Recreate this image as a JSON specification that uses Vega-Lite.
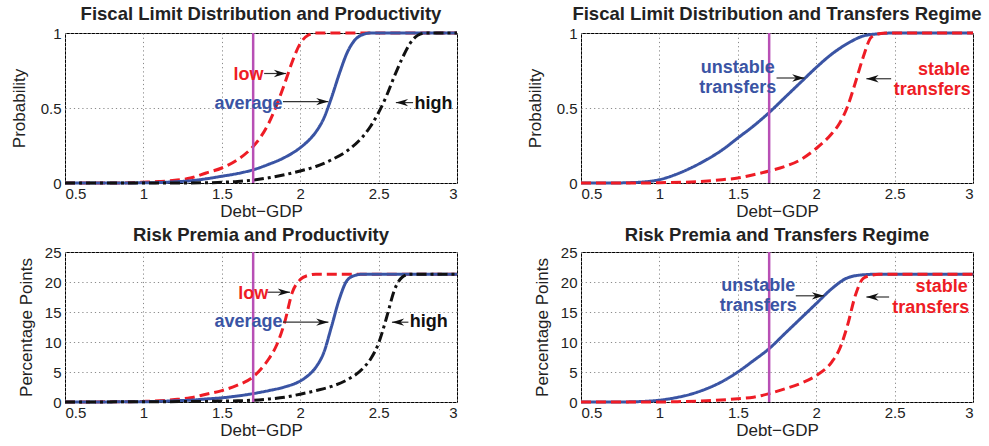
{
  "$schema": "https://vega.github.io/schema/vega-lite/v6.json",
  "padding": {"left": 9, "top": 4, "right": 3, "bottom": 5},
  "background": "white",
  "columns": 2,
  "spacing": {"row": 69, "column": 124},
  "bounds": "flush",
  "config": {
    "font": "Liberation Sans",
    "view": {"stroke": "#000000", "strokeWidth": 1},
    "axis": {
      "labelFont": "Liberation Sans", "labelFontSize": 15, "labelColor": "#222222", "labelOverlap": false,
      "titleFont": "Liberation Sans", "titleFontSize": 17, "titleFontWeight": "normal", "titleColor": "#222222",
      "domain": false, "ticks": false, "labelPadding": 4,
      "grid": true, "gridColor": "#8a8a8a", "gridDash": [1.2, 3], "gridWidth": 1, "gridOpacity": 1
    },
    "axisY": {"titlePadding": 12},
    "axisX": {"titlePadding": 2, "labelPadding": 3},
    "title": {"font": "Liberation Sans", "fontSize": 18.5, "fontWeight": "bold", "color": "#222222", "offset": 3},
    "text": {"font": "Liberation Sans"}
  },
  "datasets": {
    "p1": [
      {"s":"low","x":0.5,"y":0},{"s":"low","x":0.8,"y":0},{"s":"low","x":0.9,"y":0.001},{"s":"low","x":1.0,"y":0.005},{"s":"low","x":1.1,"y":0.01},{"s":"low","x":1.2,"y":0.018},{"s":"low","x":1.3,"y":0.033},{"s":"low","x":1.4,"y":0.067},{"s":"low","x":1.5,"y":0.1},{"s":"low","x":1.6,"y":0.155},{"s":"low","x":1.7,"y":0.244},{"s":"low","x":1.75,"y":0.31},{"s":"low","x":1.8,"y":0.4},{"s":"low","x":1.85,"y":0.52},{"s":"low","x":1.9,"y":0.66},{"s":"low","x":1.95,"y":0.81},{"s":"low","x":2.0,"y":0.93},{"s":"low","x":2.05,"y":0.985},{"s":"low","x":2.1,"y":1.0},{"s":"low","x":2.5,"y":1.0},{"s":"low","x":3.0,"y":1.0},
      {"s":"average","x":0.5,"y":0},{"s":"average","x":1.0,"y":0.001},{"s":"average","x":1.2,"y":0.008},{"s":"average","x":1.3,"y":0.015},{"s":"average","x":1.4,"y":0.028},{"s":"average","x":1.5,"y":0.045},{"s":"average","x":1.6,"y":0.063},{"s":"average","x":1.7,"y":0.088},{"s":"average","x":1.8,"y":0.125},{"s":"average","x":1.9,"y":0.17},{"s":"average","x":2.0,"y":0.235},{"s":"average","x":2.05,"y":0.28},{"s":"average","x":2.1,"y":0.34},{"s":"average","x":2.15,"y":0.43},{"s":"average","x":2.2,"y":0.57},{"s":"average","x":2.25,"y":0.73},{"s":"average","x":2.3,"y":0.87},{"s":"average","x":2.35,"y":0.955},{"s":"average","x":2.4,"y":0.99},{"s":"average","x":2.45,"y":1.0},{"s":"average","x":3.0,"y":1.0},
      {"s":"high","x":0.5,"y":0},{"s":"high","x":1.4,"y":0.001},{"s":"high","x":1.5,"y":0.005},{"s":"high","x":1.6,"y":0.01},{"s":"high","x":1.7,"y":0.02},{"s":"high","x":1.8,"y":0.035},{"s":"high","x":1.9,"y":0.055},{"s":"high","x":2.0,"y":0.08},{"s":"high","x":2.1,"y":0.11},{"s":"high","x":2.2,"y":0.155},{"s":"high","x":2.3,"y":0.215},{"s":"high","x":2.4,"y":0.31},{"s":"high","x":2.45,"y":0.38},{"s":"high","x":2.5,"y":0.47},{"s":"high","x":2.55,"y":0.58},{"s":"high","x":2.6,"y":0.71},{"s":"high","x":2.65,"y":0.83},{"s":"high","x":2.7,"y":0.93},{"s":"high","x":2.75,"y":0.985},{"s":"high","x":2.8,"y":1.0},{"s":"high","x":3.0,"y":1.0}
    ],
    "p2": [
      {"s":"unstable","x":0.5,"y":0},{"s":"unstable","x":0.7,"y":0},{"s":"unstable","x":0.8,"y":0.002},{"s":"unstable","x":0.9,"y":0.007},{"s":"unstable","x":1.0,"y":0.022},{"s":"unstable","x":1.1,"y":0.055},{"s":"unstable","x":1.2,"y":0.1},{"s":"unstable","x":1.3,"y":0.155},{"s":"unstable","x":1.4,"y":0.22},{"s":"unstable","x":1.5,"y":0.3},{"s":"unstable","x":1.6,"y":0.38},{"s":"unstable","x":1.7,"y":0.47},{"s":"unstable","x":1.8,"y":0.57},{"s":"unstable","x":1.9,"y":0.67},{"s":"unstable","x":2.0,"y":0.77},{"s":"unstable","x":2.1,"y":0.86},{"s":"unstable","x":2.2,"y":0.93},{"s":"unstable","x":2.3,"y":0.98},{"s":"unstable","x":2.4,"y":0.995},{"s":"unstable","x":2.5,"y":1.0},{"s":"unstable","x":3.0,"y":1.0},
      {"s":"stable","x":0.5,"y":0},{"s":"stable","x":0.9,"y":0},{"s":"stable","x":1.0,"y":0.002},{"s":"stable","x":1.2,"y":0.007},{"s":"stable","x":1.4,"y":0.022},{"s":"stable","x":1.5,"y":0.033},{"s":"stable","x":1.6,"y":0.055},{"s":"stable","x":1.7,"y":0.08},{"s":"stable","x":1.8,"y":0.11},{"s":"stable","x":1.9,"y":0.155},{"s":"stable","x":2.0,"y":0.23},{"s":"stable","x":2.1,"y":0.33},{"s":"stable","x":2.15,"y":0.4},{"s":"stable","x":2.2,"y":0.51},{"s":"stable","x":2.25,"y":0.67},{"s":"stable","x":2.3,"y":0.84},{"s":"stable","x":2.35,"y":0.97},{"s":"stable","x":2.4,"y":0.995},{"s":"stable","x":2.45,"y":1.0},{"s":"stable","x":3.0,"y":1.0}
    ],
    "p3": [
      {"s":"low","x":0.5,"y":0},{"s":"low","x":0.9,"y":0.05},{"s":"low","x":1.0,"y":0.1},{"s":"low","x":1.1,"y":0.2},{"s":"low","x":1.2,"y":0.4},{"s":"low","x":1.3,"y":0.7},{"s":"low","x":1.4,"y":1.3},{"s":"low","x":1.5,"y":1.9},{"s":"low","x":1.6,"y":2.8},{"s":"low","x":1.7,"y":4.2},{"s":"low","x":1.75,"y":5.5},{"s":"low","x":1.8,"y":7.2},{"s":"low","x":1.85,"y":9.5},{"s":"low","x":1.9,"y":13.2},{"s":"low","x":1.95,"y":18.3},{"s":"low","x":2.0,"y":20.4},{"s":"low","x":2.05,"y":21.1},{"s":"low","x":2.1,"y":21.3},{"s":"low","x":2.5,"y":21.3},{"s":"low","x":3.0,"y":21.3},
      {"s":"average","x":0.5,"y":0},{"s":"average","x":1.0,"y":0.05},{"s":"average","x":1.1,"y":0.1},{"s":"average","x":1.2,"y":0.2},{"s":"average","x":1.3,"y":0.3},{"s":"average","x":1.4,"y":0.5},{"s":"average","x":1.5,"y":0.7},{"s":"average","x":1.6,"y":1.0},{"s":"average","x":1.7,"y":1.4},{"s":"average","x":1.8,"y":1.9},{"s":"average","x":1.9,"y":2.5},{"s":"average","x":2.0,"y":3.5},{"s":"average","x":2.05,"y":4.4},{"s":"average","x":2.1,"y":5.8},{"s":"average","x":2.15,"y":8.2},{"s":"average","x":2.2,"y":12.6},{"s":"average","x":2.25,"y":17.2},{"s":"average","x":2.3,"y":20.3},{"s":"average","x":2.35,"y":21.1},{"s":"average","x":2.4,"y":21.3},{"s":"average","x":3.0,"y":21.3},
      {"s":"high","x":0.5,"y":0},{"s":"high","x":1.4,"y":0.1},{"s":"high","x":1.5,"y":0.15},{"s":"high","x":1.6,"y":0.2},{"s":"high","x":1.7,"y":0.3},{"s":"high","x":1.8,"y":0.5},{"s":"high","x":1.9,"y":0.8},{"s":"high","x":2.0,"y":1.3},{"s":"high","x":2.1,"y":1.9},{"s":"high","x":2.2,"y":2.6},{"s":"high","x":2.3,"y":3.7},{"s":"high","x":2.4,"y":5.6},{"s":"high","x":2.45,"y":7.2},{"s":"high","x":2.5,"y":9.8},{"s":"high","x":2.55,"y":14.0},{"s":"high","x":2.6,"y":18.6},{"s":"high","x":2.65,"y":20.8},{"s":"high","x":2.7,"y":21.3},{"s":"high","x":3.0,"y":21.3}
    ],
    "p4": [
      {"s":"unstable","x":0.5,"y":0},{"s":"unstable","x":0.8,"y":0.02},{"s":"unstable","x":0.9,"y":0.1},{"s":"unstable","x":1.0,"y":0.3},{"s":"unstable","x":1.1,"y":0.7},{"s":"unstable","x":1.2,"y":1.3},{"s":"unstable","x":1.3,"y":2.2},{"s":"unstable","x":1.4,"y":3.4},{"s":"unstable","x":1.5,"y":5.0},{"s":"unstable","x":1.6,"y":6.9},{"s":"unstable","x":1.7,"y":8.9},{"s":"unstable","x":1.8,"y":11.4},{"s":"unstable","x":1.9,"y":13.9},{"s":"unstable","x":2.0,"y":16.4},{"s":"unstable","x":2.1,"y":18.9},{"s":"unstable","x":2.2,"y":20.7},{"s":"unstable","x":2.3,"y":21.2},{"s":"unstable","x":2.4,"y":21.3},{"s":"unstable","x":3.0,"y":21.3},
      {"s":"stable","x":0.5,"y":0},{"s":"stable","x":1.0,"y":0},{"s":"stable","x":1.1,"y":0.05},{"s":"stable","x":1.3,"y":0.2},{"s":"stable","x":1.5,"y":0.55},{"s":"stable","x":1.6,"y":0.8},{"s":"stable","x":1.7,"y":1.4},{"s":"stable","x":1.8,"y":2.2},{"s":"stable","x":1.9,"y":3.1},{"s":"stable","x":2.0,"y":4.4},{"s":"stable","x":2.1,"y":6.7},{"s":"stable","x":2.15,"y":8.9},{"s":"stable","x":2.2,"y":12.8},{"s":"stable","x":2.25,"y":17.8},{"s":"stable","x":2.3,"y":20.6},{"s":"stable","x":2.35,"y":21.1},{"s":"stable","x":2.4,"y":21.3},{"s":"stable","x":3.0,"y":21.3}
    ],
    "lab1": [{"s":"low","x":1.67,"y":0.72,"t":"low"},{"s":"average","x":1.67,"y":0.53,"t":"average"},{"s":"high","x":2.85,"y":0.53,"t":"high"}],
    "arr1": [{"x2":1.77,"x":1.91,"y":0.73},{"x2":1.89,"x":2.18,"y":0.543},{"x2":2.72,"x":2.61,"y":0.536}],
    "lab2": [{"s":"unstable","x":1.5,"y":0.77,"t":"unstable"},{"s":"unstable","x":1.5,"y":0.636,"t":"transfers"},{"s":"stable","x":2.815,"y":0.755,"t":"stable"},{"s":"stable","x":2.74,"y":0.62,"t":"transfers"}],
    "arr2": [{"x2":1.747,"x":1.925,"y":0.7},{"x2":2.478,"x":2.32,"y":0.695}],
    "lab3": [{"s":"low","x":1.7,"y":18,"t":"low"},{"s":"average","x":1.67,"y":13.3,"t":"average"},{"s":"high","x":2.82,"y":13.3,"t":"high"}],
    "arr3": [{"x2":1.79,"x":1.935,"y":18.3},{"x2":1.89,"x":2.18,"y":13.3},{"x2":2.69,"x":2.585,"y":13.3}],
    "lab4": [{"s":"unstable","x":1.63,"y":19.3,"t":"unstable"},{"s":"unstable","x":1.63,"y":16,"t":"transfers"},{"s":"stable","x":2.8,"y":19.2,"t":"stable"},{"s":"stable","x":2.73,"y":15.7,"t":"transfers"}],
    "arr4": [{"x2":1.87,"x":2.05,"y":17.7},{"x2":2.465,"x":2.32,"y":17.5}],
    "vlineP": [{"x":1.7,"y":0,"y2":1}],
    "vlineR": [{"x":1.7,"y":0,"y2":25}]
  },
  "concat": [
    {
      "title": "Fiscal Limit Distribution and Productivity",
      "width": 392, "height": 150,
      "encoding": {
        "x": {"field": "x", "type": "quantitative", "scale": {"domain": [0.5, 3], "nice": false}, "axis": {"title": "Debt−GDP", "values": [0.5,1,1.5,2,2.5,3], "format": "~g", "labelOverlap": false}},
        "y": {"field": "y", "type": "quantitative", "scale": {"domain": [0, 1], "nice": false}, "axis": {"title": "Probability", "values": [0,0.5,1], "format": "~g", "labelOverlap": false}}
      },
      "layer": [
        {"data": {"name": "p1"}, "mark": {"type": "line", "strokeWidth": 3, "interpolate": "monotone"},
         "encoding": {
           "color": {"field": "s", "type": "nominal", "legend": null, "scale": {"domain": ["low","average","high","unstable","stable"], "range": ["#ee1c25","#3a54a4","#111111","#3a54a4","#ee1c25"]}},
           "strokeDash": {"field": "s", "type": "nominal", "legend": null, "scale": {"domain": ["low","average","high","unstable","stable"], "range": [[10,5],[1,0],[10,4,3,4],[1,0],[10,5]]}}
         }},
        {"data": {"name": "vlineP"}, "mark": {"type": "rule", "color": "#b84fb5", "strokeWidth": 2.5}, "encoding": {"y2": {"field": "y2"}}},
        {"data": {"name": "arr1"}, "mark": {"type": "rule", "color": "#333333", "strokeWidth": 1.2}, "encoding": {"x2": {"field": "x2"}}},
        {"data": {"name": "arr1"}, "transform": [{"filter": "datum.x > datum.x2"}], "mark": {"type": "point", "shape": "M0,0L-2,-0.6L-1.4,0L-2,0.6Z", "filled": true, "color": "#111111", "size": 150, "opacity": 1}},
        {"data": {"name": "arr1"}, "transform": [{"filter": "datum.x < datum.x2"}], "mark": {"type": "point", "shape": "M0,0L2,-0.6L1.4,0L2,0.6Z", "filled": true, "color": "#111111", "size": 150, "opacity": 1}},
        {"data": {"name": "lab1"}, "mark": {"type": "text", "fontSize": 18, "fontWeight": "bold"},
         "encoding": {"text": {"field": "t"}, "color": {"field": "s", "type": "nominal", "legend": null, "scale": {"domain": ["low","average","high","unstable","stable"], "range": ["#ee1c25","#3a54a4","#111111","#3a54a4","#ee1c25"]}}}}
      ]
    },
    {
      "title": "Fiscal Limit Distribution and Transfers Regime",
      "width": 392, "height": 150,
      "encoding": {
        "x": {"field": "x", "type": "quantitative", "scale": {"domain": [0.5, 3], "nice": false}, "axis": {"title": "Debt−GDP", "values": [0.5,1,1.5,2,2.5,3], "format": "~g", "labelOverlap": false}},
        "y": {"field": "y", "type": "quantitative", "scale": {"domain": [0, 1], "nice": false}, "axis": {"title": "Probability", "values": [0,0.5,1], "format": "~g", "labelOverlap": false}}
      },
      "layer": [
        {"data": {"name": "p2"}, "mark": {"type": "line", "strokeWidth": 3, "interpolate": "monotone"},
         "encoding": {
           "color": {"field": "s", "type": "nominal", "legend": null, "scale": {"domain": ["low","average","high","unstable","stable"], "range": ["#ee1c25","#3a54a4","#111111","#3a54a4","#ee1c25"]}},
           "strokeDash": {"field": "s", "type": "nominal", "legend": null, "scale": {"domain": ["low","average","high","unstable","stable"], "range": [[10,5],[1,0],[10,4,3,4],[1,0],[10,5]]}}
         }},
        {"data": {"name": "vlineP"}, "mark": {"type": "rule", "color": "#b84fb5", "strokeWidth": 2.5}, "encoding": {"y2": {"field": "y2"}}},
        {"data": {"name": "arr2"}, "mark": {"type": "rule", "color": "#333333", "strokeWidth": 1.2}, "encoding": {"x2": {"field": "x2"}}},
        {"data": {"name": "arr2"}, "transform": [{"filter": "datum.x > datum.x2"}], "mark": {"type": "point", "shape": "M0,0L-2,-0.6L-1.4,0L-2,0.6Z", "filled": true, "color": "#111111", "size": 150, "opacity": 1}},
        {"data": {"name": "arr2"}, "transform": [{"filter": "datum.x < datum.x2"}], "mark": {"type": "point", "shape": "M0,0L2,-0.6L1.4,0L2,0.6Z", "filled": true, "color": "#111111", "size": 150, "opacity": 1}},
        {"data": {"name": "lab2"}, "mark": {"type": "text", "fontSize": 18, "fontWeight": "bold"},
         "encoding": {"text": {"field": "t"}, "color": {"field": "s", "type": "nominal", "legend": null, "scale": {"domain": ["low","average","high","unstable","stable"], "range": ["#ee1c25","#3a54a4","#111111","#3a54a4","#ee1c25"]}}}}
      ]
    },
    {
      "title": {"text": "Risk Premia and Productivity", "offset": 1},
      "width": 392, "height": 150,
      "encoding": {
        "x": {"field": "x", "type": "quantitative", "scale": {"domain": [0.5, 3], "nice": false}, "axis": {"title": "Debt−GDP", "values": [0.5,1,1.5,2,2.5,3], "format": "~g", "labelOverlap": false}},
        "y": {"field": "y", "type": "quantitative", "scale": {"domain": [0, 25], "nice": false}, "axis": {"title": "Percentage Points", "values": [0,5,10,15,20,25], "format": "~g", "titlePadding": 9, "labelOverlap": false}}
      },
      "layer": [
        {"data": {"name": "p3"}, "mark": {"type": "line", "strokeWidth": 3, "interpolate": "monotone"},
         "encoding": {
           "color": {"field": "s", "type": "nominal", "legend": null, "scale": {"domain": ["low","average","high","unstable","stable"], "range": ["#ee1c25","#3a54a4","#111111","#3a54a4","#ee1c25"]}},
           "strokeDash": {"field": "s", "type": "nominal", "legend": null, "scale": {"domain": ["low","average","high","unstable","stable"], "range": [[10,5],[1,0],[10,4,3,4],[1,0],[10,5]]}}
         }},
        {"data": {"name": "vlineR"}, "mark": {"type": "rule", "color": "#b84fb5", "strokeWidth": 2.5}, "encoding": {"y2": {"field": "y2"}}},
        {"data": {"name": "arr3"}, "mark": {"type": "rule", "color": "#333333", "strokeWidth": 1.2}, "encoding": {"x2": {"field": "x2"}}},
        {"data": {"name": "arr3"}, "transform": [{"filter": "datum.x > datum.x2"}], "mark": {"type": "point", "shape": "M0,0L-2,-0.6L-1.4,0L-2,0.6Z", "filled": true, "color": "#111111", "size": 150, "opacity": 1}},
        {"data": {"name": "arr3"}, "transform": [{"filter": "datum.x < datum.x2"}], "mark": {"type": "point", "shape": "M0,0L2,-0.6L1.4,0L2,0.6Z", "filled": true, "color": "#111111", "size": 150, "opacity": 1}},
        {"data": {"name": "lab3"}, "mark": {"type": "text", "fontSize": 18, "fontWeight": "bold"},
         "encoding": {"text": {"field": "t"}, "color": {"field": "s", "type": "nominal", "legend": null, "scale": {"domain": ["low","average","high","unstable","stable"], "range": ["#ee1c25","#3a54a4","#111111","#3a54a4","#ee1c25"]}}}}
      ]
    },
    {
      "title": {"text": "Risk Premia and Transfers Regime", "offset": 1},
      "width": 392, "height": 150,
      "encoding": {
        "x": {"field": "x", "type": "quantitative", "scale": {"domain": [0.5, 3], "nice": false}, "axis": {"title": "Debt−GDP", "values": [0.5,1,1.5,2,2.5,3], "format": "~g", "labelOverlap": false}},
        "y": {"field": "y", "type": "quantitative", "scale": {"domain": [0, 25], "nice": false}, "axis": {"title": "Percentage Points", "values": [0,5,10,15,20,25], "format": "~g", "titlePadding": 9, "labelOverlap": false}}
      },
      "layer": [
        {"data": {"name": "p4"}, "mark": {"type": "line", "strokeWidth": 3, "interpolate": "monotone"},
         "encoding": {
           "color": {"field": "s", "type": "nominal", "legend": null, "scale": {"domain": ["low","average","high","unstable","stable"], "range": ["#ee1c25","#3a54a4","#111111","#3a54a4","#ee1c25"]}},
           "strokeDash": {"field": "s", "type": "nominal", "legend": null, "scale": {"domain": ["low","average","high","unstable","stable"], "range": [[10,5],[1,0],[10,4,3,4],[1,0],[10,5]]}}
         }},
        {"data": {"name": "vlineR"}, "mark": {"type": "rule", "color": "#b84fb5", "strokeWidth": 2.5}, "encoding": {"y2": {"field": "y2"}}},
        {"data": {"name": "arr4"}, "mark": {"type": "rule", "color": "#333333", "strokeWidth": 1.2}, "encoding": {"x2": {"field": "x2"}}},
        {"data": {"name": "arr4"}, "transform": [{"filter": "datum.x > datum.x2"}], "mark": {"type": "point", "shape": "M0,0L-2,-0.6L-1.4,0L-2,0.6Z", "filled": true, "color": "#111111", "size": 150, "opacity": 1}},
        {"data": {"name": "arr4"}, "transform": [{"filter": "datum.x < datum.x2"}], "mark": {"type": "point", "shape": "M0,0L2,-0.6L1.4,0L2,0.6Z", "filled": true, "color": "#111111", "size": 150, "opacity": 1}},
        {"data": {"name": "lab4"}, "mark": {"type": "text", "fontSize": 18, "fontWeight": "bold"},
         "encoding": {"text": {"field": "t"}, "color": {"field": "s", "type": "nominal", "legend": null, "scale": {"domain": ["low","average","high","unstable","stable"], "range": ["#ee1c25","#3a54a4","#111111","#3a54a4","#ee1c25"]}}}}
      ]
    }
  ]
}
